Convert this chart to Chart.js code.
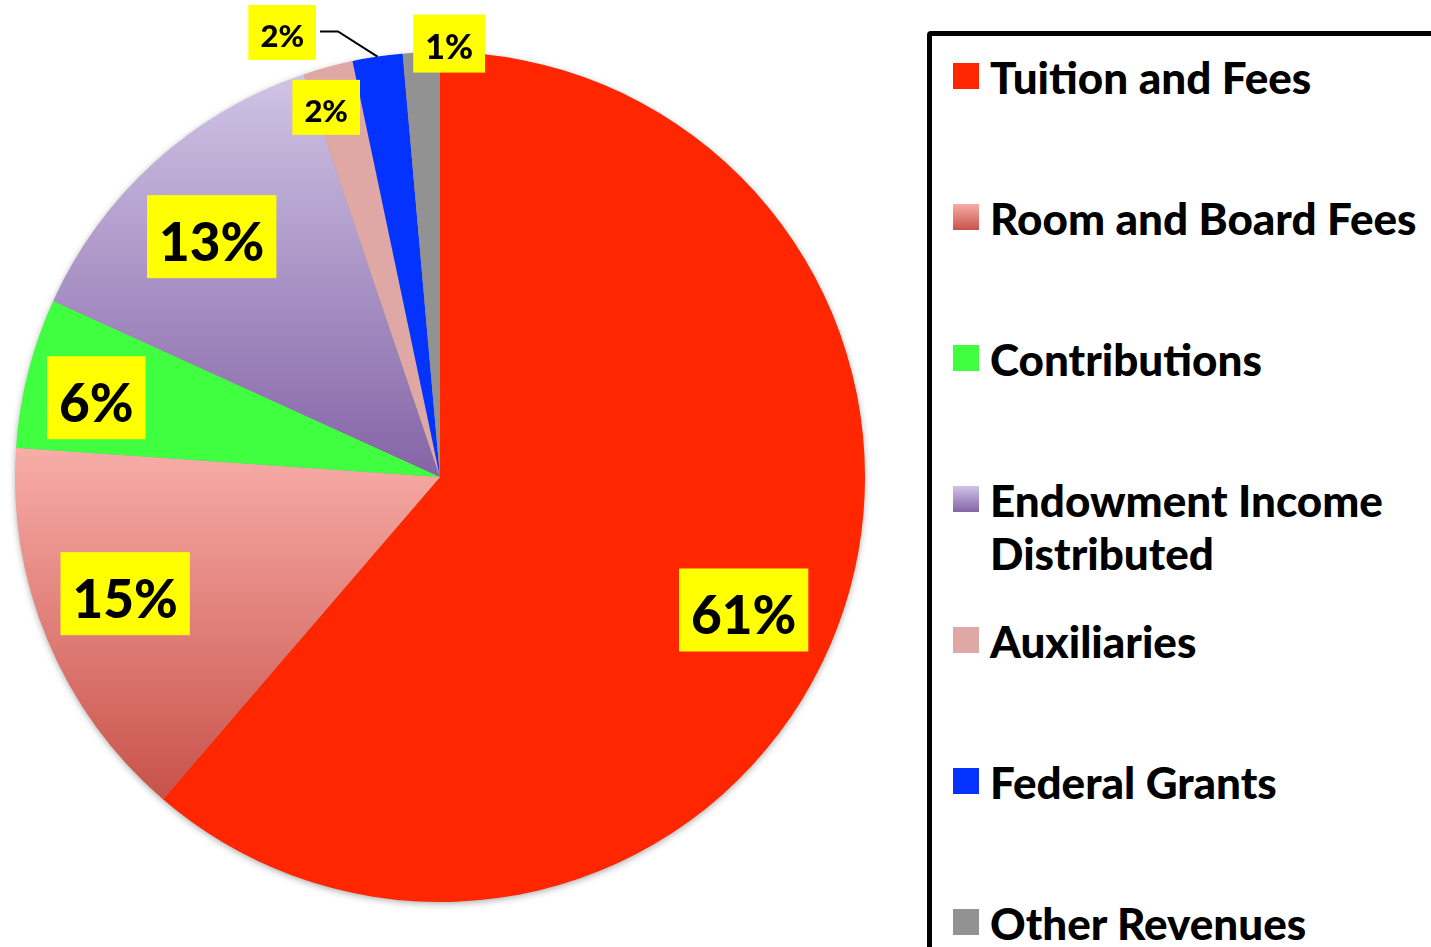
<!DOCTYPE html>
<html>
<head>
<meta charset="utf-8">
<script src="https://cdn.jsdelivr.net/npm/chart.js@4.4.1/dist/chart.umd.min.js"></script>
<style>
  html, body { margin: 0; padding: 0; background: #fff; width: 1431px; height: 947px; overflow: hidden; }
  #wrap { position: relative; width: 1431px; height: 947px; }
  #pie { position: absolute; left: 0; top: 0; }
  #legendBox { position: absolute; left: 927px; top: 31px; width: 600px; height: 1000px;
    border: 5px solid #000; border-radius: 4px; box-sizing: border-box; }
  .item { position: absolute; left: 990px; width: 438px; font-family: Lato, "Open Sans", sans-serif;
    font-weight: 900; font-size: 44px; line-height: 53px; color: #000; }
  .swatch { position: absolute; left: 953px; width: 26px; height: 26px; }
</style>
</head>
<body>
<div id="wrap">
  <canvas id="pie" width="880" height="947"></canvas>
  <div id="legendBox"></div>
  <div id="legend"></div>
</div>
<script>
// ---- data ----
const categories = ['Tuition and Fees', 'Room and Board Fees', 'Contributions',
  'Endowment Income Distributed', 'Auxiliaries', 'Federal Grants', 'Other Revenues'];
const shares = [61.3, 14.8, 5.7, 13.0, 1.9, 1.9, 1.4];
const percentLabels = ['61%', '15%', '6%', '13%', '2%', '2%', '1%'];

// ---- styles ----
const sliceColors = ['#FF2600', ['#F8ADA8', '#C8524A'], '#40FF40', ['#D0C4E6', '#8464A6'],
  '#E0A8A5', '#0433FF', '#929292'];
// label placement: f = fraction across the slice angle, rf = fraction of radius
const labelPlacement = [
  { f: 0.515, rf: 0.78, size: 53, padY: 15 },
  { f: 0.544, rf: 0.79, size: 53, padY: 15 },
  { f: 0.44,  rf: 0.83, size: 53, padY: 15 },
  { f: 0.47,  rf: 0.78, size: 53, padY: 15 },
  { f: 0.235, rf: 0.91, size: 31, padY: 12 },
  { f: -1.12, rf: 1.11, size: 31, padY: 12, leader: true },
  { f: 1.24,  rf: 1.02, size: 34, padY: 12 }
];
const FONT = 'Lato, "Open Sans", sans-serif';
const WEIGHT = 900;

const total = shares.reduce((a, b) => a + b, 0);

function sliceFill(ctx) {
  const c = sliceColors[ctx.dataIndex];
  if (!Array.isArray(c)) return c;
  const chart = ctx.chart;
  const area = chart.chartArea;
  if (!area) return c[0];
  const cy = (area.top + area.bottom) / 2;
  const r = Math.min(area.width, area.height) / 2;
  let before = 0;
  for (let i = 0; i < ctx.dataIndex; i++) before += shares[i];
  const s = before / total * Math.PI * 2;
  const e = (before + shares[ctx.dataIndex]) / total * Math.PI * 2;
  const ys = [cy, cy - r * Math.cos(s), cy - r * Math.cos(e)];
  if (s <= 0) ys.push(cy - r);
  if (s <= Math.PI && e >= Math.PI) ys.push(cy + r);
  const g = chart.ctx.createLinearGradient(0, Math.min(...ys), 0, Math.max(...ys));
  g.addColorStop(0, c[0]);
  g.addColorStop(1, c[1]);
  return g;
}

const shadowPlugin = {
  id: 'pieShadow',
  beforeDatasetsDraw(chart) {
    const el = chart.getDatasetMeta(0).data[0];
    if (!el) return;
    const p = el.getProps(['x', 'y', 'outerRadius'], true);
    const ctx = chart.ctx;
    ctx.save();
    ctx.shadowColor = 'rgba(0,0,0,0.35)';
    ctx.shadowBlur = 7;
    ctx.shadowOffsetX = 0;
    ctx.shadowOffsetY = 2;
    ctx.fillStyle = '#999';
    ctx.beginPath();
    ctx.arc(p.x, p.y, p.outerRadius - 0.5, 0, Math.PI * 2);
    ctx.fill();
    ctx.restore();
  }
};

const labelPlugin = {
  id: 'pctLabels',
  afterDatasetsDraw(chart) {
    const ctx = chart.ctx;
    const meta = chart.getDatasetMeta(0);
    meta.data.forEach((el, i) => {
      const p = el.getProps(['x', 'y', 'startAngle', 'endAngle', 'outerRadius'], true);
      const pl = labelPlacement[i];
      const a = p.startAngle + pl.f * (p.endAngle - p.startAngle);
      const cx = p.x + Math.cos(a) * pl.rf * p.outerRadius;
      const cy = p.y + Math.sin(a) * pl.rf * p.outerRadius;
      const text = percentLabels[i];
      ctx.save();
      ctx.font = `${WEIGHT} ${pl.size}px ${FONT}`;
      const tw = ctx.measureText(text).width;
      const bw = tw + 24;
      const bh = pl.size + pl.padY * 2;
      const left = cx - bw / 2, top = cy - bh / 2;
      if (pl.leader) {
        const am = (p.startAngle + p.endAngle) / 2;
        const tx = p.x + Math.cos(am) * p.outerRadius;
        const ty = p.y + Math.sin(am) * p.outerRadius;
        ctx.strokeStyle = '#000';
        ctx.lineWidth = 2;
        ctx.beginPath();
        ctx.moveTo(left + bw + 4, cy - 1);
        ctx.lineTo(left + bw + 22, cy - 1);
        ctx.lineTo(tx, ty);
        ctx.stroke();
      }
      ctx.fillStyle = '#FFFF00';
      ctx.fillRect(left, top, bw, bh);
      ctx.fillStyle = '#000';
      ctx.textAlign = 'center';
      ctx.textBaseline = 'alphabetic';
      ctx.fillText(text, cx, cy + pl.size * 0.46);
      ctx.restore();
    });
  }
};

new Chart(document.getElementById('pie'), {
  type: 'pie',
  data: {
    labels: categories,
    datasets: [{
      data: shares,
      backgroundColor: sliceFill,
      borderWidth: 0,
      hoverOffset: 0
    }]
  },
  options: {
    responsive: false,
    animation: false,
    events: [],
    layout: { padding: { left: 15, right: 15, top: 52, bottom: 45 } },
    plugins: { legend: { display: false }, tooltip: { enabled: false } }
  },
  plugins: [shadowPlugin, labelPlugin]
});

// ---- HTML legend ----
const legend = document.getElementById('legend');
categories.forEach((name, i) => {
  const top = 51 + 141 * i;
  const sw = document.createElement('div');
  sw.className = 'swatch';
  sw.style.top = (top + 12) + 'px';
  const c = sliceColors[i];
  sw.style.background = Array.isArray(c) ? `linear-gradient(${c[0]}, ${c[1]})` : c;
  const it = document.createElement('div');
  it.className = 'item';
  it.style.top = top + 'px';
  it.textContent = name;
  legend.appendChild(sw);
  legend.appendChild(it);
});
</script>
</body>
</html>
